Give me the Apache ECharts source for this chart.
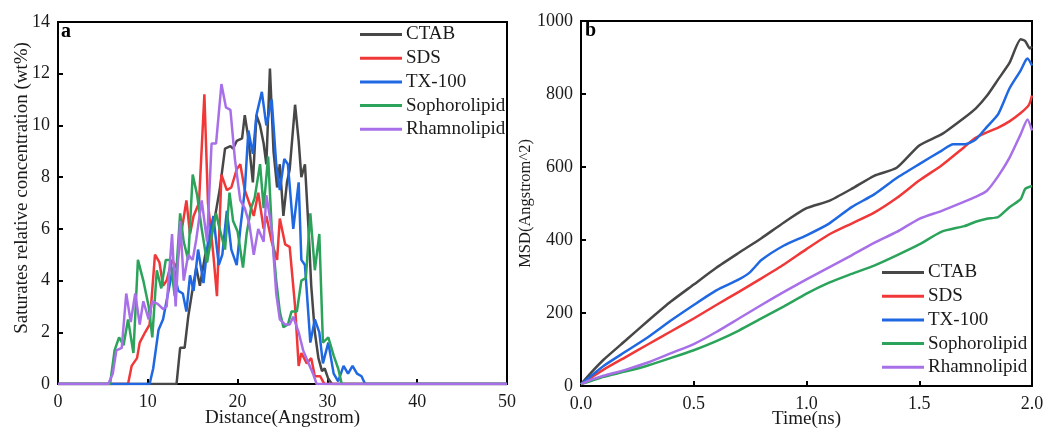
<!DOCTYPE html>
<html><head><meta charset="utf-8">
<script src="https://cdn.jsdelivr.net/npm/echarts@6/dist/echarts.min.js"></script>
<style>html,body{margin:0;padding:0;background:#fff}#c{width:1046px;height:428px}</style>
</head><body><div id="c"></div>
<script>
const names = ['CTAB','SDS','TX-100','Sophorolipid','Rhamnolipid'];
const colors = ['#474747','#f03838','#1f68e2','#2ba35a','#a870e8'];

// Panel a: distance (Angstrom) vs saturates relative concentration (wt%)
const ctabA = [[0,0],[13.2,0],[13.6,1.4],[14.1,1.4],[14.5,2.6],[15,3.7],[15.4,4.5],[15.8,3.8],[16.4,5],[16.9,5.5],[17.5,6.5],[18,7.5],[18.6,9.1],[19.2,9.2],[19.5,9.1],[19.9,9.4],[20.5,9.5],[20.8,10.4],[21.2,9.5],[21.7,7.8],[22.1,10.4],[22.5,10],[22.9,9.3],[23.2,8.5],[23.6,12.2],[24,9],[24.4,7.6],[24.7,8.5],[25.1,6.5],[25.5,7.8],[25.8,8.3],[26.4,10.8],[26.8,9.4],[27.1,8],[27.5,8.5],[27.9,6],[28.2,3.8],[28.6,2],[29,1],[29.4,0.5],[29.7,0.6],[30.1,0.2],[30.5,0],[50,0]];
const sdsA = [[0,0],[7.8,0],[8.2,0.7],[8.8,1.0],[9.1,1.6],[9.7,2.0],[10.2,2.3],[10.8,5.0],[11.3,4.7],[11.7,3.8],[12.1,4.0],[12.7,4.8],[13.2,4.5],[13.8,6.0],[14.3,7.1],[14.7,5.8],[15.1,6.5],[15.7,7.0],[16.3,11.2],[16.7,7],[17.3,5],[17.7,3.4],[18.2,8.1],[18.8,7.5],[19.3,7.6],[19.9,8.3],[20.3,8.5],[20.8,7.5],[21.3,7],[21.8,6.5],[22.3,7.4],[22.9,6.0],[23.2,6.5],[23.8,5.5],[24.4,4.8],[24.7,6.4],[25.3,5.4],[25.8,5.3],[26.4,3.0],[26.8,0.7],[27.1,1.2],[27.7,0.8],[28.2,1.0],[28.6,0.3],[29.2,0.3],[29.5,0.1],[29.7,0],[50,0]];
const txA = [[0,0],[10.2,0],[10.6,0.6],[11.2,2.1],[11.7,2.5],[12.3,3.6],[12.8,4.5],[13.4,3.6],[13.9,3.5],[14.3,2.8],[14.7,4.2],[15.1,3.6],[15.6,5.2],[16.2,3.9],[16.7,5.5],[17.3,6.5],[17.9,4.6],[18.3,5.0],[18.8,6.7],[19.3,5.2],[19.9,4.6],[20.3,6.0],[20.8,7.5],[21.2,9.8],[21.7,8.9],[22.1,10.4],[22.7,11.3],[23.2,10.0],[23.8,11.0],[24.3,8.5],[24.7,7.5],[25.2,8.7],[25.6,8.5],[26.2,6.0],[26.8,7.8],[27.1,4.8],[27.5,4.6],[28.1,1.6],[28.6,2.5],[29.1,2.0],[29.5,0.8],[30.1,1.6],[30.7,0.4],[31.2,0.1],[31.8,0.7],[32.3,0.4],[32.8,0.7],[33.3,0.4],[33.8,0.3],[34.2,0],[50,0]];
const sophA = [[0,0],[5.8,0],[6.3,1.3],[6.8,1.8],[7.3,1.5],[7.8,2.5],[8.4,1.2],[8.9,4.8],[9.5,4.0],[10.1,3.0],[10.5,1.8],[11,4.4],[11.5,3.7],[12,4.8],[12.5,4.8],[13,3.4],[13.6,6.6],[14,5.5],[14.5,4.8],[15,8.1],[15.5,7.3],[16,6.0],[16.6,4.7],[17,5.5],[17.6,6.6],[18,6.0],[18.6,5.2],[19.1,7.4],[19.5,6.3],[20,5.9],[20.6,4.5],[21,5.8],[21.5,6.8],[21.9,7.2],[22.5,8.5],[22.9,6.8],[23.4,8.8],[23.8,6.0],[24.3,4.0],[24.7,2.8],[25.1,2.2],[25.6,2.3],[26,2.8],[26.6,2.8],[27.1,4.0],[27.6,4.1],[28.1,6.6],[28.6,4.4],[29.1,5.8],[29.5,1.6],[30.1,1.8],[30.7,1.1],[31.2,0.6],[31.6,0],[50,0]];
const rhamA = [[0,0],[5.6,0],[6.1,0.4],[6.5,1.3],[7.1,1.4],[7.6,3.5],[8.1,2.4],[8.6,3.5],[9.1,2.3],[9.5,3.2],[10.1,2.5],[10.5,3.2],[11.1,3.1],[11.7,2.9],[12.1,3.0],[12.7,5.8],[13.1,3.0],[13.6,6.3],[14,4.0],[14.5,5.0],[15,4.8],[15.4,5.6],[16,7.1],[16.6,5.5],[17.1,9.3],[17.6,9.3],[18.2,11.6],[18.7,10.7],[19.2,10.6],[19.7,8.7],[20.3,7.1],[20.8,6.8],[21.3,6.2],[21.8,5.0],[22.3,6.0],[22.9,5.5],[23.2,7.3],[23.8,6.0],[24.3,3.5],[24.7,2.5],[25.3,2.3],[25.8,2.3],[26.2,2.6],[26.8,2.0],[27.3,1.3],[27.9,0.8],[28.4,0.4],[28.8,0],[50,0]];

// Panel b: time (ns) vs MSD (Angstrom^2)
const ctabB = [[0,5],[0.05,40],[0.1,72],[0.2,126],[0.3,180],[0.4,232],[0.5,278],[0.6,324],[0.7,365],[0.8,405],[0.9,448],[1.0,487],[1.1,507],[1.2,540],[1.3,576],[1.4,598],[1.5,659],[1.6,690],[1.7,735],[1.75,760],[1.8,795],[1.85,840],[1.9,885],[1.95,950],[1.97,945],[1.99,925],[2.0,930]];
const sdsB = [[0,5],[0.05,25],[0.1,45],[0.2,80],[0.3,115],[0.4,150],[0.5,185],[0.6,222],[0.7,258],[0.8,295],[0.9,333],[1.0,375],[1.1,415],[1.2,445],[1.3,475],[1.4,515],[1.5,563],[1.6,605],[1.7,655],[1.75,680],[1.8,695],[1.85,708],[1.9,725],[1.95,748],[1.98,765],[1.99,775],[2.0,796]];
const txB = [[0,5],[0.05,30],[0.1,55],[0.2,95],[0.3,135],[0.4,180],[0.5,222],[0.6,262],[0.7,292],[0.75,312],[0.8,345],[0.9,385],[1.0,413],[1.1,445],[1.2,490],[1.3,525],[1.4,570],[1.5,608],[1.6,645],[1.65,662],[1.7,662],[1.75,675],[1.8,710],[1.85,745],[1.9,815],[1.95,865],[1.97,890],[1.98,897],[2.0,878]];
const sophB = [[0,5],[0.05,15],[0.1,25],[0.2,40],[0.3,57],[0.4,77],[0.5,98],[0.6,123],[0.7,152],[0.8,185],[0.9,218],[1.0,253],[1.1,283],[1.2,307],[1.3,330],[1.4,358],[1.5,388],[1.6,423],[1.7,438],[1.75,450],[1.8,458],[1.85,463],[1.9,490],[1.95,512],[1.97,540],[2.0,548]];
const rhamB = [[0,5],[0.05,18],[0.1,28],[0.2,45],[0.3,65],[0.4,90],[0.5,115],[0.6,148],[0.7,185],[0.8,222],[0.9,258],[1.0,292],[1.1,325],[1.2,358],[1.3,392],[1.4,422],[1.5,458],[1.6,480],[1.7,505],[1.75,518],[1.8,535],[1.85,575],[1.9,625],[1.95,690],[1.98,730],[2.0,700]];

const xTicksA = {min:0,max:50,interval:10};
const yTicksA = {min:0,max:14,interval:2};
const xTicksB = {min:0,max:2,interval:0.5};
const yTicksB = {min:0,max:1000,interval:200};

const font = 'Liberation Serif, Times New Roman, serif';
const txt = '#1a1a1a';
const dataA = [ctabA,sdsA,txA,sophA,rhamA];
const dataB = [ctabB,sdsB,txB,sophB,rhamB];

function axis(extra, isX, fmt, nameStyle){
  const lab = {color:txt,fontFamily:font,fontSize:18,margin:isX?9:8};
  if (fmt) lab.formatter = fmt;
  return Object.assign({
    type:'value',
    axisLine:{show:true,onZero:false,lineStyle:{color:'#000',width:2}},
    axisTick:{show:true,inside:true,length:5,lineStyle:{color:'#000',width:2}},
    axisLabel:lab,
    splitLine:{show:false},
    nameLocation:'middle',
    nameMoveOverlap:false,
    nameTextStyle:Object.assign({color:txt,fontFamily:font,fontSize:19},nameStyle||{})
  }, extra);
}

const series = [];
names.forEach((n,i)=>{
  series.push({name:n,type:'line',xAxisIndex:0,yAxisIndex:0,data:dataA[i],showSymbol:false,
    lineStyle:{width:2.5,color:colors[i]},itemStyle:{color:colors[i]}});
});
names.forEach((n,i)=>{
  series.push({name:n,type:'line',xAxisIndex:1,yAxisIndex:1,data:dataB[i],showSymbol:false,smooth:0.2,
    lineStyle:{width:2.5,color:colors[i]},itemStyle:{color:colors[i]}});
});

const legendBase = {orient:'vertical',itemWidth:42,itemHeight:3,icon:'rect',itemGap:4.7,padding:0,
  textStyle:{color:txt,fontFamily:font,fontSize:19,lineHeight:18.5,padding:[0,0,0,-1]},data:names};

const chart = echarts.init(document.getElementById('c'),null,{renderer:'canvas'});
chart.setOption({
  animation:false,
  backgroundColor:'#fff',
  grid:[
    {left:58,top:22,width:449,height:362,show:true,borderColor:'#000',borderWidth:2,backgroundColor:'transparent',containLabel:false,outerBoundsMode:'none'},
    {left:581,top:21,width:451,height:365,show:true,borderColor:'#000',borderWidth:2,backgroundColor:'transparent',containLabel:false,outerBoundsMode:'none'}
  ],
  xAxis:[
    axis(Object.assign({gridIndex:0,name:'Distance(Angstrom)',nameGap:25},xTicksA),true),
    axis(Object.assign({gridIndex:1,name:'Time(ns)',nameGap:24},xTicksB),true,v=>v.toFixed(1))
  ],
  yAxis:[
    axis(Object.assign({gridIndex:0,name:'Saturates relative concentration (wt%)',nameGap:26},yTicksA),false,null,{padding:[0,0,0,30]}),
    axis(Object.assign({gridIndex:1,name:'MSD(Angstrom^2)',nameGap:47},yTicksB),false,v=>String(v),{fontSize:16.5})
  ],
  legend:[
    Object.assign({left:360,top:25},legendBase),
    Object.assign({left:882,top:263},legendBase)
  ],
  graphic:[
    {type:'text',left:61,top:22,style:{text:'a',font:'bold 20px '+font,fill:'#000'}},
    {type:'text',left:585,top:21,style:{text:'b',font:'bold 20px '+font,fill:'#000'}}
  ],
  series:series
});
</script></body></html>
